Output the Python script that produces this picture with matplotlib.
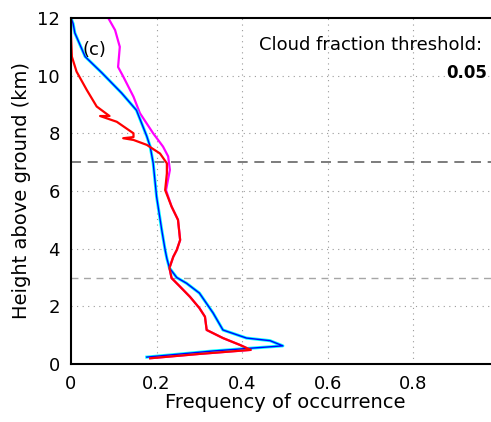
import numpy as np
import matplotlib.pyplot as plt

# hoogte (km) en frequentie
blauw_h = [0.24, 0.45, 0.63, 0.81, 0.9, 1.18, 1.77, 2.46, 2.8, 3.0, 3.33, 3.66, 3.95,
           4.65, 5.8, 6.97, 7.54, 7.9, 8.8, 9.4, 10.1, 10.66, 11.48, 11.8, 12.0]
blauw_f = [0.177, 0.33, 0.495, 0.465, 0.41, 0.355, 0.332, 0.30, 0.27, 0.247, 0.23, 0.224, 0.22,
           0.212, 0.20, 0.192, 0.185, 0.177, 0.153, 0.118, 0.072, 0.033, 0.009, 0.005, 0.0]

rood_h = [0.2, 0.35, 0.49, 0.66, 0.9, 1.18, 1.64, 1.94, 2.33, 2.68, 2.98, 3.33, 3.72, 3.95,
          4.3, 5.0, 5.46, 6.03, 6.61, 6.96, 7.3, 7.6, 7.77, 7.83, 7.87, 8.0, 8.4, 8.6,
          8.6, 8.93, 9.5, 10.14, 10.66, 11.4, 12.0]
rood_f = [0.185, 0.30, 0.42, 0.395, 0.355, 0.317, 0.313, 0.30, 0.278, 0.255, 0.235, 0.23, 0.239,
          0.247, 0.255, 0.25, 0.235, 0.22, 0.224, 0.224, 0.208, 0.177, 0.146, 0.122, 0.146,
          0.146, 0.107, 0.068, 0.09, 0.06, 0.037, 0.013, 0.002, 0.0, 0.0]

roze_h = [0.2, 0.35, 0.49, 0.66, 0.9, 1.18, 1.64, 1.94, 2.33, 2.68, 2.98, 3.33, 3.72, 3.95,
          4.3, 5.0, 5.46, 6.03, 6.73, 7.2, 7.54, 8.0, 8.7, 9.27, 9.97, 10.3, 11.0, 11.58, 12.0]
roze_f = [0.185, 0.30, 0.42, 0.395, 0.355, 0.317, 0.313, 0.30, 0.278, 0.255, 0.235, 0.23, 0.239,
          0.247, 0.255, 0.25, 0.235, 0.222, 0.231, 0.227, 0.215, 0.192, 0.161, 0.146, 0.122,
          0.11, 0.114, 0.103, 0.087]

xticks = [0, 0.2, 0.4, 0.6, 0.8]
xticklabels = ["0", "0.2", "0.4", "0.6", "0.8"]
yticks = [0, 2, 4, 6, 8, 10, 12]
lijnen_h = [7, 3]

fig = plt.figure(figsize=(4.91, 4.22), dpi=100)
ax = fig.add_axes([0.1446, 0.1374, 0.8717, 0.82])

# grid met stippellijnen
for x in xticks[1:]:
    ax.axvline(x, color="0.6", linestyle=(0, (1, 4)), linewidth=0.8, zorder=0)
for y in yticks[1:-1]:
    ax.axhline(y, color="0.6", linestyle=(0, (1, 4)), linewidth=0.8, zorder=0)

ax.axhline(lijnen_h[0], color="0.4", linestyle=(0, (6, 4)), linewidth=1.2, zorder=1)
ax.axhline(lijnen_h[1], color="0.65", linestyle=(0, (5, 4)), linewidth=1.0, zorder=1)

ax.plot(roze_f, roze_h, color="magenta", linewidth=1.6)
ax.plot(blauw_f, blauw_h, color="cyan", linewidth=2.2)
ax.plot(blauw_f, blauw_h, color="blue", linewidth=1.0)
ax.plot(rood_f, rood_h, color="red", linewidth=1.6)

ax.set_xlim(0, 1)
ax.set_ylim(0, 12)
ax.set_xticks(xticks)
ax.set_xticklabels(xticklabels)
ax.set_yticks(yticks)
ax.tick_params(length=0, labelsize=13, pad=8)
ax.spines["right"].set_visible(False)
for s in ["left", "bottom", "top"]:
    ax.spines[s].set_linewidth(1.5)

ax.set_xlabel("Frequency of occurrence", fontsize=14, labelpad=0)
ax.set_ylabel("Height above ground (km)", fontsize=14, labelpad=4)

ax.text(0.028, 10.9, "(c)", fontsize=13, va="center")
ax.text(0.44, 11.06, "Cloud fraction threshold:", fontsize=13, va="center")
ax.text(0.972, 10.09, "0.05", fontsize=12, fontweight="bold", va="center", ha="right")

fig.savefig("out.png", dpi=100)
